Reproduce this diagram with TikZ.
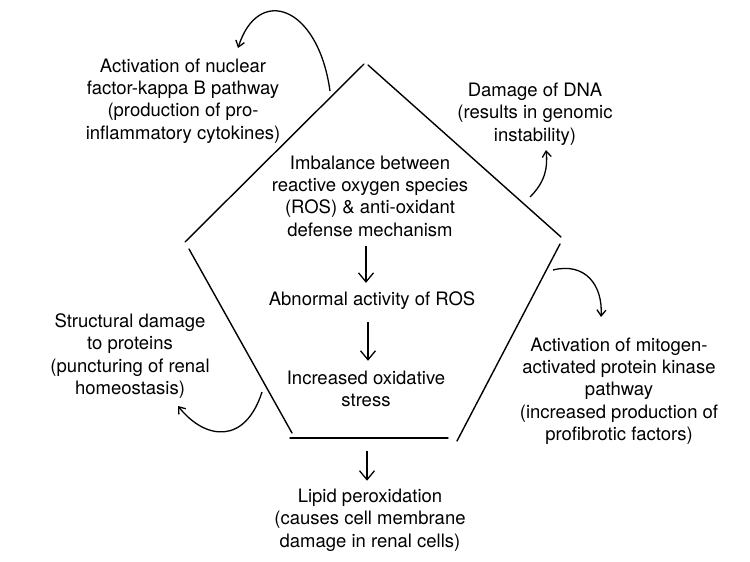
\documentclass[tikz,border=0pt]{standalone}
\usepackage{fontspec}
\setmainfont{TeX Gyre Heros}
\usetikzlibrary{arrows.meta}
\begin{document}
\begin{tikzpicture}[x=1pt,y=-1pt,
  txt/.style={align=center,inner sep=0pt,font=\fontsize{18.5}{22.3}\selectfont},
  edge/.style={line width=1.4pt,line cap=round},
  arr/.style={line width=1.3pt,-{Straight Barb[length=9pt,width=15pt,line width=1.3pt]}},
  carr/.style={line width=1.3pt,-{Straight Barb[length=6pt,width=9pt,line width=1.3pt]}}]
\useasboundingbox[fill=white] (0,0) rectangle (750,562);
% pentagon
\draw[edge] (185,242) -- (364,64);
\draw[edge] (368,65) -- (561,237);
\draw[edge] (189,249) -- (292,433);
\draw[edge] (560,244) -- (457,441);
\draw[edge] (290,438) -- (448,438);
% texts
\node[txt] (nfkb) at (183,101) {Activation of nuclear\\factor-kappa B pathway\\(production of pro-\\inflammatory cytokines)};
\node[txt] (dna) at (535,114) {Damage of DNA\\(results in genomic\\instability)};
\node[txt] (imb) at (370,196) {Imbalance between\\reactive oxygen species\\(ROS) \& anti-oxidant\\defense mechanism};
\node[txt] (abn) at (372,301) {Abnormal activity of ROS};
\node[txt] (ox) at (366,389) {Increased oxidative\\stress};
\node[txt] (lip) at (370,520) {Lipid peroxidation\\(causes cell membrane\\damage in renal cells)};
\node[txt] (str) at (130,356) {Structural damage\\to proteins\\(puncturing of renal\\homeostasis)};
\node[txt] (mapk) at (619,391) {Activation of mitogen-\\activated protein kinase\\pathway\\(increased production of\\profibrotic factors)};
% straight arrows
\coordinate (a1s) at (366,246);
\coordinate (a2s) at (368,322);
\coordinate (a3s) at (367,451);
\draw[arr,shorten >=9pt] (a1s) -- (a1s |- abn.north);
\draw[arr,shorten >=10pt] (a2s) -- (a2s |- ox.north);
\draw[arr,shorten >=8pt] (a3s) -- (a3s |- lip.north);
% curved arrows
\coordinate (c1s) at (330,91);
\coordinate (c1e) at (238,48);
\draw[carr] (c1s) .. controls (318,5) and (258,-15) .. (c1e);
\coordinate (c2s) at (530,197);
\coordinate (c2e) at (546,150);
\draw[carr] (c2s) .. controls (545,182) and (548,168) .. (c2e);
\coordinate (c3s) at (553,270);
\coordinate (c3e) at (601,317);
\draw[carr] (c3s) .. controls (585,262) and (603,285) .. (c3e);
\coordinate (c4s) at (262,392);
\coordinate (c4e) at (178,406);
\draw[carr] (c4s) .. controls (245,445) and (205,440) .. (c4e);
\end{tikzpicture}
\end{document}
